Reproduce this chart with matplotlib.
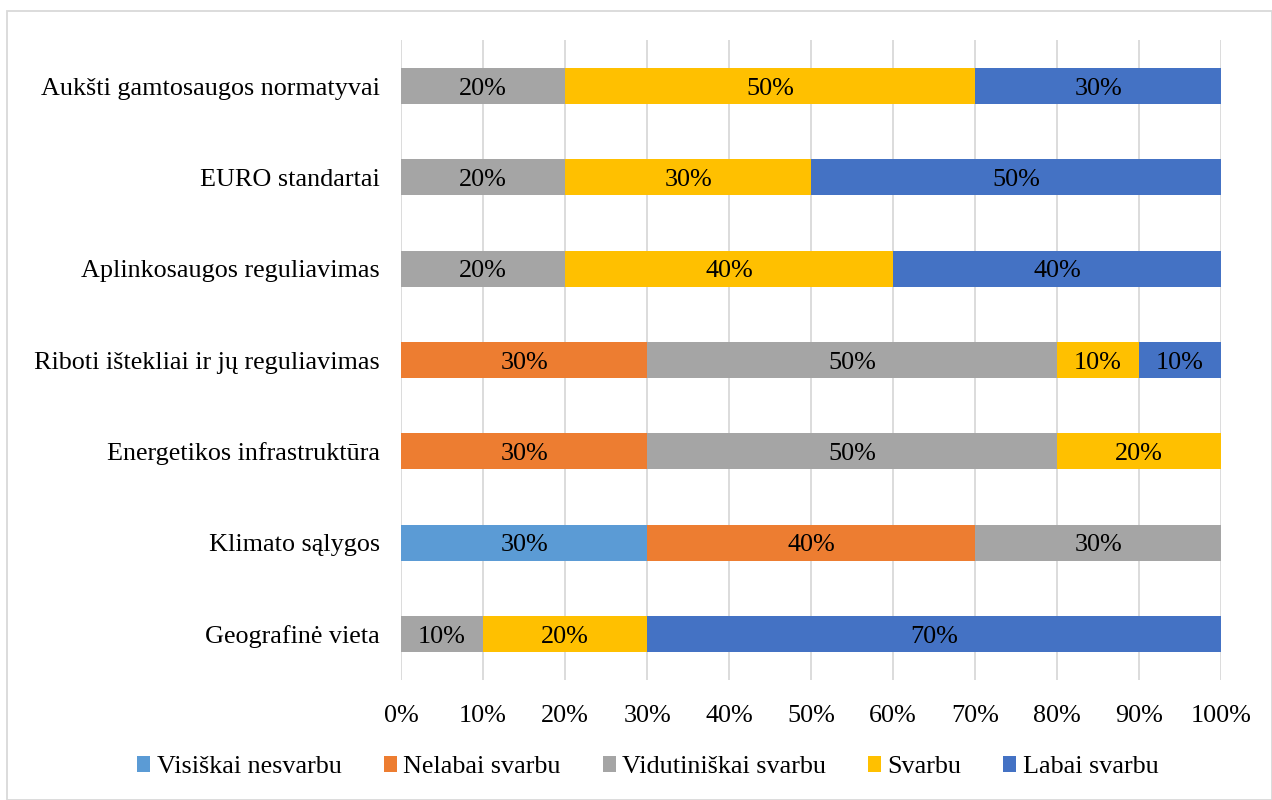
import numpy as np
import matplotlib
matplotlib.use("Agg")
import matplotlib.pyplot as plt
from matplotlib.patches import Rectangle

plt.rcParams["font.family"] = ["Liberation Serif", "DejaVu Serif"]

# categories listed bottom -> top
categories = [
    "Geografinė vieta",
    "Klimato sąlygos",
    "Energetikos infrastruktūra",
    "Riboti ištekliai ir jų reguliavimas",
    "Aplinkosaugos reguliavimas",
    "EURO standartai",
    "Aukšti gamtosaugos normatyvai",
]
visiskai_nesvarbu   = [0, 30, 0, 0, 0, 0, 0]
nelabai_svarbu      = [0, 40, 30, 30, 0, 0, 0]
vidutiniskai_svarbu = [10, 30, 50, 50, 20, 20, 20]
svarbu              = [20, 0, 20, 10, 40, 30, 50]
labai_svarbu        = [70, 0, 0, 10, 40, 50, 30]

series_names = ["Visiškai nesvarbu", "Nelabai svarbu", "Vidutiniškai svarbu",
                "Svarbu", "Labai svarbu"]
series = [visiskai_nesvarbu, nelabai_svarbu, vidutiniskai_svarbu, svarbu, labai_svarbu]
colors = ["#5B9BD5", "#ED7D31", "#A5A5A5", "#FFC000", "#4472C4"]

FS = 18.8

fig = plt.figure(figsize=(12.72, 8.0), dpi=100)
ax = fig.add_axes([0.3153, 0.1504, 0.6447, 0.799])

y = np.arange(len(categories))
left = np.zeros(len(categories))
for name, vals, col in zip(series_names, series, colors):
    vals = np.array(vals, dtype=float)
    ax.barh(y, vals, left=left, height=0.395, color=col, label=name, zorder=2)
    for yi, (l, v) in enumerate(zip(left, vals)):
        if v > 0:
            ax.text(l + v / 2, yi, f"{int(v)}%", ha="center", va="center_baseline",
                    fontsize=FS, color="#000000", zorder=3)
    left += vals

ax.set_xlim(0, 100)
ax.set_ylim(-0.5, len(categories) - 0.5)
ax.set_xticks(np.arange(0, 101, 10))
ax.set_xticklabels([f"{v}%" for v in range(0, 101, 10)], fontsize=FS)
ax.set_yticks(y)
ax.set_yticklabels(categories, fontsize=FS)
ax.tick_params(axis="x", length=0, pad=18)
ax.tick_params(axis="y", length=0, pad=15)
ax.xaxis.grid(True, color="#D9D9D9", lw=1.3, zorder=0)
for s in ax.spines.values():
    s.set_visible(False)

ax.legend(loc="center", bbox_to_anchor=(648 / 1272, 1 - 767 / 800),
          bbox_transform=fig.transFigure, ncol=5, frameon=False, fontsize=FS,
          handlelength=0.5, handleheight=0.6, handletextpad=0.25, columnspacing=1.6)

# thin frame around the whole chart area
fig.patches.append(Rectangle((7 / 1272, 0.0), 1 - 7 / 1272, 1 - 11 / 800,
                             transform=fig.transFigure, fill=False,
                             edgecolor="#D9D9D9", lw=1.3))

fig.savefig("out.png", dpi=100)
